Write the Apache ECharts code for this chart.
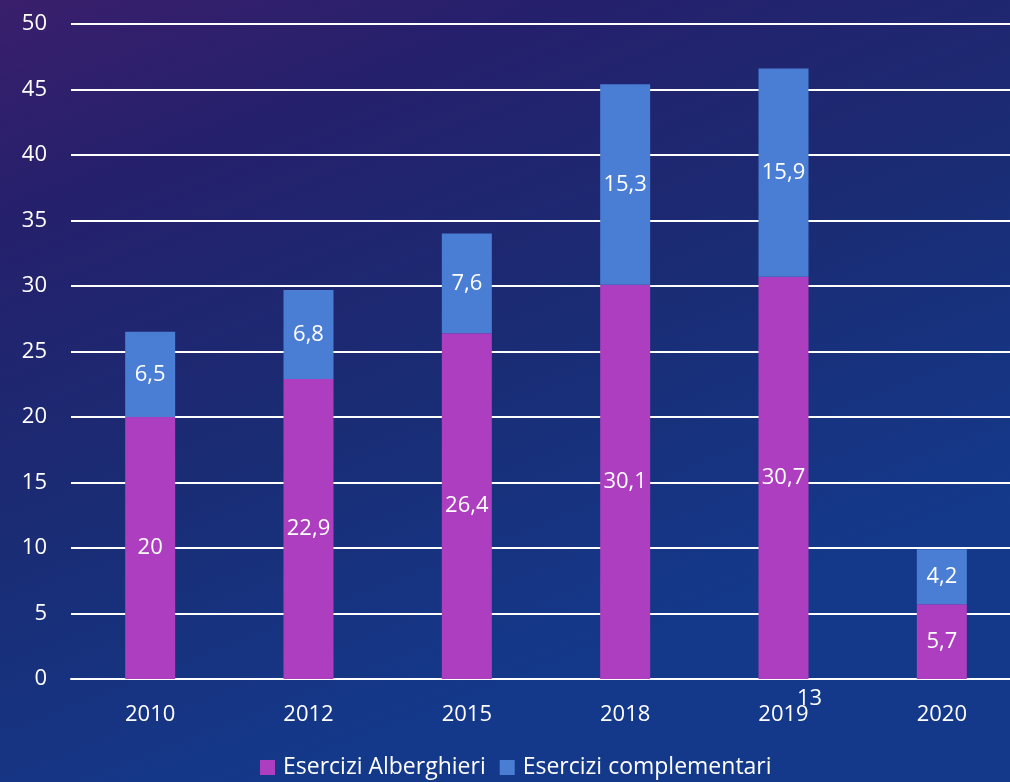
<!DOCTYPE html>
<html><head><meta charset="utf-8">
<script src="https://cdn.jsdelivr.net/npm/echarts@6/dist/echarts.min.js"></script>
<style>html,body{margin:0;padding:0;}#c{width:1010px;height:782px;}</style>
</head><body><div id="c"></div>
<script>
const years = ['2010','2012','2015','2018','2019','2020'];
const alberghieri = [20, 22.9, 26.4, 30.1, 30.7, 5.7];
const complementari = [6.5, 6.8, 7.6, 15.3, 15.9, 4.2];
const seriesNames = ['Esercizi Alberghieri','Esercizi complementari'];
const slideNumber = '13';

const fontFam = '"Open Sans", "Noto Sans", sans-serif';
const fmt = p => String(p.value).replace('.', ',');
const chart = echarts.init(document.getElementById('c'));
chart.setOption({
  backgroundColor: new echarts.graphic.LinearGradient(0, 0, 0.3, 1, [
    {offset: 0, color: '#3a1f6c'},
    {offset: 0.25, color: '#25206c'},
    {offset: 0.6, color: '#1a2c74'},
    {offset: 1, color: '#14398b'}
  ]),
  animation: false,
  grid: {left: 71, width: 950, top: 24, bottom: 103, outerBoundsMode: 'none', containLabel: false},
  legend: {
    top: 751, left: 255, itemWidth: 15, itemHeight: 15, itemGap: 14,
    icon: 'rect',
    textStyle: {color: '#ffffff', fontSize: 23, fontFamily: fontFam, padding: [0,0,0,3]},
    data: seriesNames
  },
  xAxis: {
    type: 'category', data: years,
    axisLine: {show: true, lineStyle: {color: '#ffffff', width: 2}},
    axisTick: {show: false},
    axisLabel: {color: '#ffffff', fontSize: 22, fontFamily: fontFam, margin: 25}
  },
  yAxis: {
    type: 'value', min: 0, max: 50, interval: 5,
    axisLine: {show: false}, axisTick: {show: false},
    axisLabel: {color: '#ffffff', fontSize: 22, fontFamily: fontFam, margin: 24, align: 'right'},
    splitLine: {lineStyle: {color: '#ffffff', width: 2}}
  },
  series: [
    {
      name: seriesNames[0], type: 'bar', stack: 's', data: alberghieri, barWidth: 50,
      itemStyle: {color: '#ad3ebf'},
      label: {show: true, position: 'inside', color: '#ffffff', fontSize: 22, fontFamily: fontFam, formatter: fmt}
    },
    {
      name: seriesNames[1], type: 'bar', stack: 's', data: complementari, barWidth: 50,
      itemStyle: {color: '#4a7dd4'},
      label: {show: true, position: 'inside', color: '#ffffff', fontSize: 22, fontFamily: fontFam, formatter: fmt}
    }
  ],
  graphic: [{
    type: 'text', left: 797, top: 688,
    style: {text: slideNumber, fill: '#ffffff', fontSize: 22, fontFamily: fontFam}
  }]
});
</script></body></html>
